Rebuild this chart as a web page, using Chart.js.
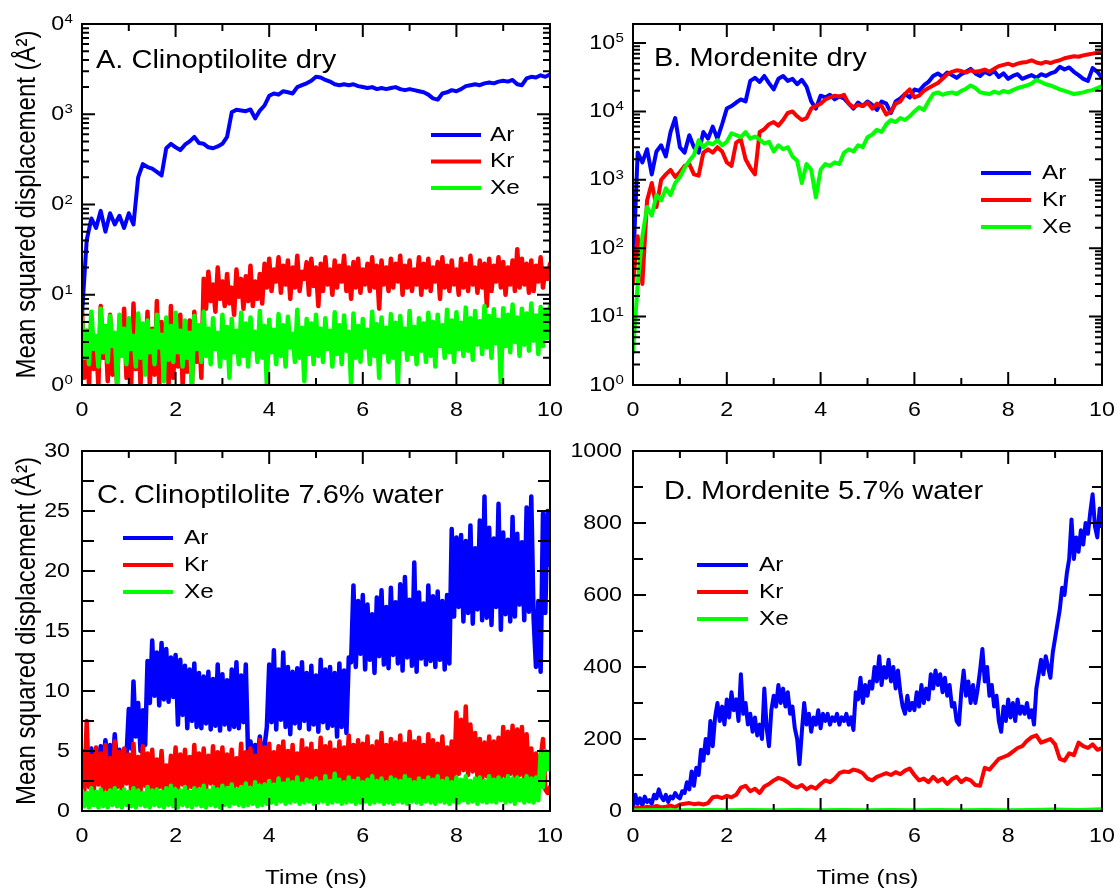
<!DOCTYPE html>
<html>
<head>
<meta charset="utf-8">
<title>Mean squared displacement of Ar, Kr and Xe in zeolites</title>
<script src="https://cdn.jsdelivr.net/npm/chart.js@4.4.1/dist/chart.umd.min.js"></script>
<style>
  html, body { margin: 0; padding: 0; background: #ffffff; }
  #wrap { position: relative; width: 1117px; height: 888px; }
  #wrap canvas { position: absolute; left: 0; top: 0; }
</style>
</head>
<body>
<div id="wrap">
  <canvas id="panelA" width="1117" height="888"></canvas>
  <canvas id="panelB" width="1117" height="888"></canvas>
  <canvas id="panelC" width="1117" height="888"></canvas>
  <canvas id="panelD" width="1117" height="888"></canvas>
</div>
<script>
// ---------------------------------------------------------------------------
// Data: MSD (Å²) sampled uniformly over 0–10 ns; each array spans the full run.
// ---------------------------------------------------------------------------
const gases = ['Ar', 'Kr', 'Xe'];
const timeTicks = [0, 2, 4, 6, 8, 10];
const T_END = 10;

// A. Clinoptilolite dry (log axis)
const clinoDryAr = [6, 40, 70, 55, 85, 50, 80, 60, 75, 55, 80, 60, 200, 280, 260, 250, 230, 210, 420, 470,
  430, 400, 460, 500, 560, 480, 470, 430, 420, 440, 470, 560, 1050, 1120, 1100, 1080, 1130, 900, 1100, 1250,
  1600, 1700, 1650, 1800, 1750, 1700, 2000, 2100, 2200, 2350, 2600, 2550, 2400, 2300, 2150, 2100, 2150, 2100, 2150, 2050,
  2000, 1950, 2000, 1900, 1950, 1900, 1950, 2000, 1900, 1850, 1900, 1850, 1800, 1750, 1650, 1500, 1450, 1700, 1750, 1850,
  1800, 1900, 2050, 2100, 2150, 2100, 2200, 2250, 2200, 2300, 2350, 2300, 2400, 2150, 2100, 2500, 2600, 2550, 2700, 2600, 2750];
const clinoDryKr = [6.5, 1.2, 4, 1.0, 5.5, 1.5, 3.2, 1.0, 7.5, 2,
  4.5, 1.1, 6, 1.3, 3, 1.0, 5, 2.2, 7, 1.2,
  4, 1.0, 8, 1.5, 5.5, 1.0, 3.5, 1.8, 6.5, 1.0,
  4.2, 1.3, 8.5, 1.0, 5, 2, 3.8, 1.0, 7.5, 1.2,
  4.5, 1.6, 6, 1.0, 3.2, 1.4, 5.2, 1.0, 6.5, 1.8,
  4.5, 1.2,
  15, 7, 18, 8.5, 13, 6.5, 20, 9, 14, 7.5, 17, 8, 12, 6, 19, 9.5, 15, 7, 16, 8.5, 21, 7.5, 14, 9, 17, 8,
  22, 12, 25, 11, 19, 14, 26, 10.5, 21, 13,
  24, 9, 20, 12, 27, 11, 18, 15, 23, 10,
  25, 12.5, 20, 7.5, 22, 11, 26, 13, 19, 10,
  24, 12, 21, 14, 27, 11, 20, 9, 23, 12,
  25, 10.5, 19, 13, 22, 11, 26, 12, 21, 7,
  24, 13, 20, 11, 25, 12, 22, 14, 27, 10,
  21, 12, 24, 11, 19, 13, 26, 10, 22, 12,
  25, 11, 20, 14, 23, 9, 26, 12, 21, 11,
  24, 13, 19, 10, 25, 12, 22, 11, 27, 13,
  20, 10.5, 24, 12, 22, 7.5, 25, 11, 21, 14,
  26, 12, 23, 10, 20, 13, 24, 11, 32, 12,
  25, 13, 22, 10.5, 24, 11, 21, 14, 26, 12,
  19, 15, 22];
const clinoDryXe = [5.5, 2.0, 4, 1.7, 6.5, 2.5, 3.5, 1.6, 7, 2.3,
  4.5, 1.8, 5.8, 2.7, 3.8, 1.0, 6, 2.1, 4.2, 1.7,
  5.5, 2.5, 3.5, 1.6, 6.2, 2.0, 4.8, 1.3, 5.2, 2.3,
  4, 1.7, 6, 2.6, 3.6, 1.1, 5.6, 1.9, 4.5, 1.8,
  6.3, 2.3, 4.0, 1.6, 5.2, 2.0, 3.8, 1.0, 5.8, 2.5,
  4.6, 1.8, 6.5, 2.1, 4.2, 1.7, 5.5, 2.5, 3.8, 1.6,
  6, 2.0, 4.4, 1.2, 5.4, 2.3, 4, 1.7, 6.3, 2.1,
  4.8, 1.6, 5.6, 2.5, 3.9, 1.8, 6.6, 2.0, 4.5, 1.0,
  5.3, 2.3, 4.1, 1.7, 6.1, 2.1, 4.6, 1.6, 5.7, 2.6,
  3.7, 1.8, 6.8, 2.0, 4.3, 1.1, 5.4, 2.2, 4.8, 1.7,
  6, 2.1, 4.2, 1.8, 5.5, 2.5, 4, 1.6, 6.4, 2.2,
  4.6, 1.7, 5.9, 2.4, 3.9, 1.0, 6.2, 2.0, 4.5, 1.8,
  5.4, 2.6, 4.1, 1.7, 6.5, 2.1, 4.7, 1.2, 5.6, 2.3,
  4.3, 1.8, 6.1, 2.0, 4.9, 1.0, 5.8, 2.5, 4.2, 1.9,
  6.6, 2.2, 4.4, 1.7, 5.5, 2.4, 4.8, 1.8, 6.3, 2.1,
  5, 1.6, 6, 2.7, 4.6, 2.0, 6.8, 2.3, 5.2, 1.8,
  6.4, 2.5, 4.9, 2.1, 7.2, 2.4, 5.5, 1.9, 6.6, 2.8,
  5.1, 2.2, 7.5, 2.6, 5.8, 2.0, 6.9, 2.9, 5.3, 1.0,
  7.1, 2.7, 6, 2.3, 7.8, 3.0, 5.6, 2.1, 7, 2.8,
  6.2, 2.4, 8, 3.1, 5.9, 2.2, 7.3, 2.7, 6.5, 3.3, 7.4];

// B. Mordenite dry (log axis)
const mordDryAr = [50, 2500, 1800, 2800, 1200, 2600, 3200, 2200, 5000, 8000,
  3000, 2500, 4500, 3000, 2500, 5000, 4000, 6000, 4000, 6500,
  11000, 12000, 13500, 15000, 14000, 28000, 31000, 27000, 33000, 26000,
  21000, 30000, 33000, 28000, 30000, 25000, 29000, 23000, 14000, 11000,
  17000, 16000, 17500, 15000, 16500, 15500, 13000, 11000, 13500, 12000,
  14000, 12500, 10500, 14000, 13000, 9500, 14000, 15500, 18000, 16000,
  21000, 20000, 24000, 27000, 33000, 36000, 32000, 37000, 34000, 31000,
  35000, 38000, 42000, 36000, 33000, 38000, 35000, 39000, 32000, 36000,
  30000, 33000, 35000, 30000, 32000, 34000, 31000, 35000, 33000, 36000,
  38000, 45000, 41000, 44000, 38000, 34000, 30000, 28000, 43000, 38000, 31000];
const mordDryKr = [30, 150, 30, 500, 900, 400, 1000, 1200, 1400, 1100,
  1300, 1600, 1700, 1200, 1150, 2500, 2800, 2500, 3000, 2600,
  1800, 1600, 3500, 3900, 2000, 1500, 1200, 5000, 5500, 6500,
  7000, 6200, 7500, 9500, 10000, 8500, 7500, 8000, 11000, 12000,
  13000, 15000, 16000, 17000, 16500, 17500, 13000, 11500, 12500, 12000,
  13500, 11000, 13000, 12000, 9000, 10000, 13000, 14000, 18000, 21000,
  16000, 17000, 20000, 22000, 24000, 26000, 30000, 35000, 38000, 40000,
  39000, 37000, 40000, 38000, 39000, 41000, 38000, 42000, 46000, 48000,
  50000, 47000, 50000, 52000, 53000, 56000, 52000, 50000, 53000, 51000,
  54000, 56000, 60000, 62000, 64000, 63000, 66000, 68000, 70000, 72000, 74000];
const mordDryXe = [3, 30, 150, 400, 300, 600, 500, 750, 600, 900,
  1100, 1500, 1900, 2300, 3800, 3000, 3500, 3300, 3800, 3200,
  3600, 4800, 4500, 4200, 5000, 4000, 4300, 3900, 3400, 3600,
  2600, 3200, 2800, 3000, 2200, 1900, 900, 1700, 1400, 550,
  1400, 1700, 1600, 1800, 1700, 2500, 2800, 2600, 3200, 3000,
  4200, 4600, 5400, 5000, 6500, 7500, 7000, 8000, 7500, 8500,
  10000, 11500, 10500, 14000, 18000, 19000, 17500, 18500, 19000, 18000,
  20000, 21500, 24000, 22000, 19000, 18500, 18000, 19500, 18500, 20000,
  19000, 20500, 22000, 23000, 24000, 25500, 29000, 27000, 25000, 24000,
  22500, 21000, 20000, 19000, 18000, 18500, 19000, 20000, 20500, 22000, 23500];

// C. Clinoptilolite 7.6% water (linear axis)
const clinoWetAr = [5, 3.6, 4.8, 3.3, 5.2, 3.8, 4.6, 3.4, 5.4, 3.7, 5.9, 4.2, 5.5, 3.5, 6.4, 3.8, 5.1, 3.6, 4.9,
  4.5, 8.5, 5.2, 10.8, 6.2, 9, 5, 8.4, 5.5,
  12.5, 9, 14.2, 9.6, 13.2, 8.8, 14, 9.3, 13.5, 9.1, 12.8, 9.5, 13,
  7.2, 12.6, 8, 12.1, 6.9, 11.8, 7.5, 12.3, 7, 11.5,
  6.9, 11.2, 7.3, 11.6, 6.8, 11, 7.1, 12.2, 6.7, 11.4, 7.2, 10.9, 6.8, 11.8, 7, 12.4, 6.9, 11.3, 7.4, 12.2,
  4.5, 5.8, 4.2, 5.5, 4.4, 6.2, 4.1, 5.4,
  7, 12.2, 7.4, 13.4, 6.8, 11.8, 7.6, 13.2, 7, 12, 6.4, 11.6, 7.3, 11.9, 6.9, 12.4, 7.5, 11.5, 6.8, 12.1,
  7.2, 11.3, 6.6, 12.6, 7.4, 11.8, 6.9, 12, 7.1, 11.5, 6.2, 12.3, 7, 11.7, 6.5, 12.8,
  12.4, 18.8, 12, 17.5, 13.1, 18, 11.8, 17.2, 12.6, 16.4, 11.5, 17.8, 12.9, 18.4, 12.2, 17, 11.9, 18.6, 13, 17.4,
  12.3, 18.9, 11.7, 19.5, 12.8, 17.6, 12.1, 20.7, 11.6, 18.2, 12.7, 17.3, 12.2, 18.8, 12.5, 17.9, 12, 18.3, 12.6, 17.5,
  11.8, 18, 12.3,
  23.5, 16.2, 22.8, 17, 23, 15.8, 22.5, 16.5, 23.8, 15.6, 21.9, 16.8, 24.2, 15.9, 26.2, 16.1, 23.6, 15.5,
  22.7, 17, 25.6, 15.1, 23.2, 16.4, 22.6, 15.8, 24.5, 16.2, 23.1, 17.2, 22.4, 15.9, 25.3, 16.6, 26.2, 16,
  12, 17.5, 11.6, 24.8, 16.5, 25, 20.5];
const clinoWetKr = [5, 1.6, 7.5, 2, 4.6, 1.5, 5.3, 2.2, 4.8, 1.7,
  5.5, 1.8, 4.4, 1.5, 5.8, 2, 4.9, 1.6, 5.2, 2.3,
  4.7, 1.7, 5.6, 1.9, 4.5, 1.6, 5.4, 2.1, 4.8, 1.8,
  5.1, 1.5, 4.3, 2, 5, 1.7, 3.8, 1.9, 4.6, 2.1,
  5.3, 1.8, 4.7, 2.2, 5.1, 1.9, 4.5, 2, 5.5, 1.7,
  4.8, 2.1, 5.2, 1.8, 4.6, 2.3, 5.4, 1.9, 4.9, 2,
  5.3, 1.7, 4.7, 2.2, 5.1, 1.9, 4.4, 2.1, 5.6, 1.8,
  4.9, 2.2, 5.2, 1.9, 4.6, 2.4, 5.9, 2, 5.3, 2.1,
  5.6, 2, 4.9, 2.3, 5.4, 1.9, 5.8, 2.2, 5, 2.4,
  5.5, 2.1, 4.8, 2.3, 5.9, 2, 5.2, 2.5, 5.6, 2.1,
  5, 2.3, 6.1, 2.2, 5.4, 2, 5.7, 2.4, 5.1, 2.2,
  5.8, 2.1, 5.3, 2.5, 6.3, 2.2, 5.5, 2, 5.9, 2.3,
  5.6, 2.4, 6.2, 2.1, 5.4, 2.5, 5.8, 2.2, 6.5, 2.3,
  5.5, 2.6, 6, 2.2, 5.7, 2.4, 6.3, 2.1, 5.6, 2.5,
  6.6, 2.3, 5.8, 2.2, 6.1, 2.6, 5.5, 2.3, 6.4, 2.2,
  5.9, 2.5, 5.6, 2.3, 6.2, 2.4, 5.3, 2.6, 5.8, 2.4,
  8.2, 3.1, 7.6, 3.4, 8.7, 3, 7.2, 3.3, 6.5, 2.8,
  6, 2.6, 5.7, 2.9, 6.2, 2.5, 5.8, 2.7, 6.1, 2.6,
  7, 2.9, 6.6, 3.1, 7.1, 2.8, 6.8, 3, 7, 2.7,
  6.4, 2.8, 5.2, 2.6, 4.8, 2.5, 4.4, 6, 1.8, 1.5, 2];
const clinoWetXe = [1.7, 0.4, 1.5, 0.3, 1.9, 0.5, 1.6, 0.3, 1.8, 0.4,
  1.5, 0.3, 1.7, 0.5, 1.9, 0.4, 1.6, 0.3, 1.8, 0.5,
  1.6, 0.4, 1.9, 0.3, 1.7, 0.5, 1.5, 0.4, 2.0, 0.3,
  1.7, 0.5, 1.8, 0.4, 1.6, 0.3, 1.9, 0.5, 2.1, 0.4,
  1.8, 0.3, 1.7, 0.5, 2.0, 0.4, 1.6, 0.3, 1.9, 0.5,
  1.8, 0.4, 2.1, 0.3, 1.7, 0.5, 2.0, 0.4, 1.8, 0.3,
  2.1, 0.5, 1.9, 0.4, 2.2, 0.6, 1.8, 0.5, 2.0, 0.4,
  2.3, 0.5, 1.9, 0.6, 2.4, 0.4, 2.1, 0.5, 2.2, 0.6,
  2.5, 0.7, 2.2, 0.6, 2.7, 0.8, 2.3, 0.6, 2.6, 0.7,
  2.4, 0.8, 2.8, 0.6, 2.3, 0.7, 2.6, 0.8, 2.5, 0.6,
  2.7, 0.7, 2.4, 0.8, 2.9, 0.6, 2.5, 0.7, 3.1, 0.8,
  2.6, 0.6, 2.4, 0.7, 2.8, 0.8, 2.5, 0.6, 2.7, 0.7,
  2.4, 0.8, 2.6, 0.6, 2.9, 0.7, 2.5, 0.8, 2.7, 0.6,
  2.4, 0.7, 2.8, 0.6, 2.6, 0.8, 2.5, 0.7, 2.9, 0.6,
  2.6, 0.8, 2.4, 0.7, 2.7, 0.6, 2.5, 0.8, 2.8, 0.7,
  2.6, 0.6, 2.9, 0.8, 2.5, 0.7, 2.7, 0.6, 2.4, 0.8,
  2.8, 0.7, 2.6, 0.9, 2.9, 0.7, 2.5, 0.8, 2.7, 0.6,
  2.8, 0.8, 2.5, 0.7, 2.9, 0.8, 2.6, 0.7, 2.8, 0.9,
  2.6, 0.7, 2.9, 0.8, 2.7, 0.6, 2.8, 0.9, 2.6, 0.7,
  2.9, 0.8, 2.7, 0.7, 2.8, 0.9, 4.8, 2, 5, 3.5, 4.8];

// D. Mordenite 5.7% water (linear axis)
const mordWetAr = [10, 45, 20, 35, 15, 40, 25, 30, 20, 45,
  35, 60, 40, 30, 45, 25, 40, 35, 50, 40,
  35, 55, 50, 80, 60, 110, 70, 120, 100, 170,
  140, 200, 160, 250, 180, 260, 300, 250, 290, 240,
  310, 260, 330, 280, 310, 250, 380, 270, 300, 240,
  270, 220, 260, 210, 240, 200, 340, 230, 180, 280,
  320, 290, 350, 300, 340, 290, 330, 270, 290, 230,
  200, 130, 220, 300, 240, 270, 220, 260, 240, 280,
  230, 270, 250, 270, 240, 260, 250, 270, 240, 260,
  250, 270, 240, 260, 225, 330, 310, 370, 300, 350,
  320, 360, 340, 400, 360, 430, 350, 400, 370, 420,
  360, 400, 340, 390, 330, 290, 270, 320, 280, 300,
  280, 330, 290, 350, 300, 340, 310, 380, 340, 390,
  350, 380, 330, 370, 320, 350, 290, 300, 250, 240,
  330, 390, 320, 360, 300, 350, 300, 340, 390, 450,
  360, 400, 320, 350, 290, 320, 250, 220, 290, 250,
  310, 260, 300, 250, 310, 270, 290, 270, 300, 260,
  280, 240, 340, 380, 420, 380, 430, 400, 370, 440,
  480, 520, 560, 620, 600, 660, 700, 810, 700, 760,
  720, 780, 740, 800, 770, 830, 880, 790, 760, 840, 790];
const mordWetKr = [5, 10, 8, 12, 9, 14, 10, 12, 15, 11,
  18, 20, 22, 19, 21, 18, 22, 38, 40, 36,
  42, 38, 45, 65, 70, 55, 62, 50, 68, 75,
  85, 92, 88, 80, 70, 65, 72, 60, 68, 62,
  75, 85, 80, 90, 105, 110, 108, 115, 112, 105,
  90, 85, 95, 100, 105, 100, 108, 102, 112, 118,
  100, 85, 90, 80, 95, 82, 90, 75, 88, 95,
  80, 90, 85, 72, 70, 120, 115, 130, 145, 150,
  155, 165, 175, 180, 195, 205, 210, 190, 195, 200,
  185, 145, 140, 160, 155, 190, 180, 175, 185, 170, 175];
const mordWetXe = [2, 3, 2, 3, 2, 3, 2, 3, 2, 3, 2, 3, 2, 3, 2, 3, 2, 3, 4, 3, 5];

// Axis tick values
const logTicksA = [1, 10, 100, 1000, 10000];
const logTicksB = [1, 10, 100, 1000, 10000, 100000];
const linTicksC = [0, 5, 10, 15, 20, 25, 30];
const linTicksD = [0, 200, 400, 600, 800, 1000];

// ---------------------------------------------------------------------------
// Styling
// ---------------------------------------------------------------------------
const COLORS = { Ar: '#0000ff', Kr: '#ff0000', Xe: '#00ff00' };
const FONT = "'Liberation Sans', Arial, Helvetica, sans-serif";
const STRETCH = 1.16;          // lettering is set slightly wide
const MAJOR_TICK = 13, MINOR_TICK = 7;
const Y_TITLE = 'Mean squared displacement (Å²)';
const X_TITLE = 'Time (ns)';

function withTimes(values) {
  const n = values.length;
  return values.map((v, i) => ({ x: i * T_END / (n - 1), y: v }));
}

function drawText(ctx, s, x, y, size, align, baseline) {
  ctx.save();
  ctx.font = size + 'px ' + FONT;
  ctx.textAlign = align || 'left';
  ctx.textBaseline = baseline || 'alphabetic';
  ctx.fillStyle = '#000';
  ctx.translate(x, y);
  ctx.scale(STRETCH, 1);
  ctx.fillText(s, 0, 0);
  ctx.restore();
}
function textWidth(ctx, s, size) {
  ctx.save();
  ctx.font = size + 'px ' + FONT;
  const w = ctx.measureText(s).width * STRETCH;
  ctx.restore();
  return w;
}

function logMarks(decades, maxVal) {
  const marks = [];
  decades.forEach(d => {
    marks.push([d, true]);
    for (let m = 2; m <= 9; m++) if (d * m <= maxVal) marks.push([d * m, false]);
  });
  return marks;
}
function linMarks(majors) {
  const marks = [];
  majors.forEach((v, i) => {
    marks.push([v, true]);
    if (i < majors.length - 1) marks.push([(v + majors[i + 1]) / 2, false]);
  });
  return marks;
}

// Frame, inward ticks on all four sides, tick labels, titles and legend.
function decorPlugin(spec) {
  return {
    id: 'decor' + spec.key,
    afterDatasetsDraw(chart) {
      const { ctx, chartArea: a, scales } = chart;
      const xs = scales.x, ys = scales.y;
      ctx.save();
      ctx.strokeStyle = '#000';
      ctx.lineWidth = 2;
      ctx.beginPath();
      for (let v = 0; v <= T_END; v++) {
        const px = xs.getPixelForValue(v);
        const len = v % 2 === 0 ? MAJOR_TICK : MINOR_TICK;
        ctx.moveTo(px, a.bottom); ctx.lineTo(px, a.bottom - len);
        ctx.moveTo(px, a.top); ctx.lineTo(px, a.top + len);
      }
      spec.yMarks.forEach(([v, major]) => {
        const py = ys.getPixelForValue(v);
        const len = major ? MAJOR_TICK : spec.minorLen;
        ctx.moveTo(a.left, py); ctx.lineTo(a.left + len, py);
        ctx.moveTo(a.right, py); ctx.lineTo(a.right - len, py);
      });
      ctx.stroke();
      ctx.strokeRect(a.left, a.top, a.right - a.left, a.bottom - a.top);
      ctx.restore();
    },
    afterDraw(chart) {
      const { ctx, chartArea: a, scales } = chart;
      const xs = scales.x, ys = scales.y;
      // x tick labels
      timeTicks.forEach(v => {
        drawText(ctx, String(v), xs.getPixelForValue(v), a.bottom + 25, 20, 'center', 'middle');
      });
      // y tick labels
      const right = a.left - spec.labelGap;
      spec.yLabels.forEach(v => {
        const py = ys.getPixelForValue(v);
        if (spec.log) {
          const exp = String(Math.round(Math.log10(v)));
          const we = textWidth(ctx, exp, 13);
          drawText(ctx, exp, right - we, py - 1, 13, 'left', 'alphabetic');
          drawText(ctx, spec.logBase, right - we - 0.5, py, 20, 'right', 'middle');
        } else {
          drawText(ctx, String(v), right, py, 20, 'right', 'middle');
        }
      });
      // panel title
      drawText(ctx, spec.title, spec.titleX, spec.titleY, 25, 'left', 'alphabetic');
      // axis titles
      if (spec.yTitle) {
        ctx.save();
        ctx.translate(27, (a.top + a.bottom) / 2);
        ctx.scale(STRETCH, 1);
        ctx.rotate(-Math.PI / 2);
        ctx.font = '24px ' + FONT;
        ctx.fillStyle = '#000';
        ctx.textAlign = 'center';
        ctx.textBaseline = 'middle';
        ctx.fillText(Y_TITLE, 0, 0);
        ctx.restore();
      }
      if (spec.xTitle) {
        drawText(ctx, X_TITLE, (a.left + a.right) / 2, a.bottom + 67, 21, 'center', 'middle');
      }
      // legend
      const L = spec.legend;
      chart.data.datasets.forEach((ds, i) => {
        const y = L.y + i * L.dy;
        ctx.save();
        ctx.strokeStyle = ds.borderColor;
        ctx.lineWidth = 4;
        ctx.beginPath();
        ctx.moveTo(L.x1, y); ctx.lineTo(L.x2, y);
        ctx.stroke();
        ctx.restore();
        drawText(ctx, ds.label, L.tx, y, 21, 'left', 'middle');
      });
    }
  };
}

function makePanel(spec) {
  const seriesWidth = spec.lineWidths;
  const datasets = spec.series.map((vals, i) => ({
    label: gases[i],
    data: withTimes(vals),
    borderColor: COLORS[gases[i]],
    backgroundColor: COLORS[gases[i]],
    borderWidth: seriesWidth[i],
    borderJoinStyle: 'round',
    borderCapStyle: 'round',
    pointRadius: 0,
    fill: false,
    tension: 0,
    order: 2 - i            // Xe on top, then Kr, then Ar
  }));
  return new Chart(document.getElementById(spec.canvas), {
    type: 'line',
    data: { datasets },
    options: {
      responsive: false,
      animation: false,
      events: [],
      layout: { padding: spec.padding },
      plugins: { legend: { display: false }, tooltip: { enabled: false } },
      scales: {
        x: { type: 'linear', min: 0, max: T_END, display: false },
        y: {
          type: spec.log ? 'logarithmic' : 'linear',
          min: spec.yMin, max: spec.yMax, display: false
        }
      }
    },
    plugins: [decorPlugin(spec)]
  });
}

makePanel({
  key: 'A', canvas: 'panelA', log: true, logBase: '0',
  series: [clinoDryAr, clinoDryKr, clinoDryXe], lineWidths: [4, 4.5, 4.5],
  yMin: 1, yMax: 10000, yLabels: logTicksA, yMarks: logMarks(logTicksA, 10000), minorLen: MINOR_TICK,
  labelGap: 9,
  padding: { left: 82, right: 567, top: 24, bottom: 503 },
  title: 'A. Clinoptilolite dry', titleX: 96, titleY: 68,
  yTitle: true, xTitle: false,
  legend: { x1: 431, x2: 481, tx: 490, y: 135, dy: 26.5 }
});
makePanel({
  key: 'B', canvas: 'panelB', log: true, logBase: '10',
  series: [mordDryAr, mordDryKr, mordDryXe], lineWidths: [4, 4, 4],
  yMin: 1, yMax: 190000, yLabels: logTicksB, yMarks: logMarks(logTicksB, 190000), minorLen: MINOR_TICK,
  labelGap: 9,
  padding: { left: 633, right: 15, top: 24, bottom: 503 },
  title: 'B. Mordenite dry', titleX: 654, titleY: 66,
  yTitle: false, xTitle: false,
  legend: { x1: 981, x2: 1031, tx: 1042, y: 173, dy: 27 }
});
makePanel({
  key: 'C', canvas: 'panelC', log: false,
  series: [clinoWetAr, clinoWetKr, clinoWetXe], lineWidths: [4.5, 4.5, 4.5],
  yMin: 0, yMax: 30, yLabels: linTicksC, yMarks: linMarks(linTicksC), minorLen: 12,
  labelGap: 12,
  padding: { left: 82, right: 567, top: 451, bottom: 77 },
  title: 'C. Clinoptilolite 7.6% water', titleX: 97, titleY: 503,
  yTitle: true, xTitle: true,
  legend: { x1: 123, x2: 173, tx: 184, y: 538, dy: 27 }
});
makePanel({
  key: 'D', canvas: 'panelD', log: false,
  series: [mordWetAr, mordWetKr, mordWetXe], lineWidths: [4, 4, 4],
  yMin: 0, yMax: 1000, yLabels: linTicksD, yMarks: linMarks(linTicksD), minorLen: 10,
  labelGap: 11,
  padding: { left: 633, right: 15, top: 451, bottom: 77 },
  title: 'D. Mordenite 5.7% water', titleX: 664, titleY: 499,
  yTitle: false, xTitle: true,
  legend: { x1: 697, x2: 748, tx: 759, y: 565, dy: 27 }
});
</script>
</body>
</html>
